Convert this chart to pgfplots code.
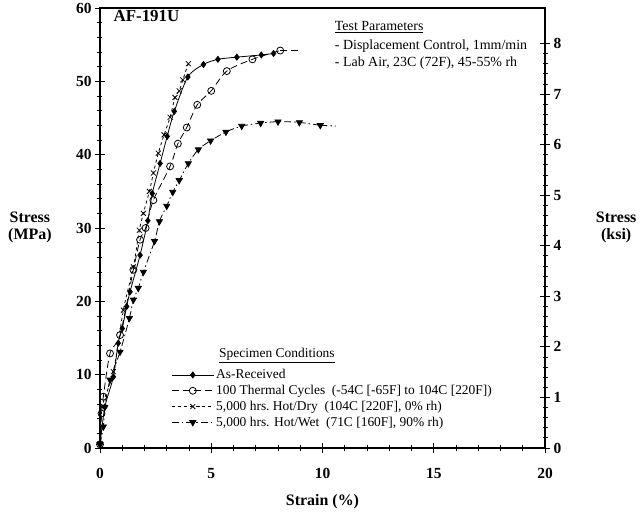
\documentclass[border=0pt]{standalone}
\usepackage{fontspec}
\setmainfont{Liberation Serif}
\usepackage{pgfplots}
\pgfplotsset{compat=1.18}

\begin{document}
\begin{tikzpicture}
\useasboundingbox (-100bp,-66bp) rectangle (544bp,448bp);
% left axis: MPa
\begin{axis}[
    at={(0,0)}, anchor=south west,
    scale only axis, width=445bp, height=440bp,
    xmin=0, xmax=20, ymin=0, ymax=60,
    xtick={0,5,...,20}, ytick={0,10,...,60},
    minor x tick num=4, minor y tick num=4,
    xtick pos=bottom, ytick pos=left,
    tick align=center, major tick length=10bp, minor tick length=5bp,
    axis line style={line width=1.1pt},
    every tick/.style={black, line width=0.8pt},
    ticklabel style={font=\fontsize{15.5}{15.5}\selectfont\bfseries},
    xticklabel style={yshift=-12bp},
    /pgf/number format/assume math mode=true,
    clip=false,
    legend cell align=left,
    legend style={draw=none, fill=none, at={(axis cs:3.2,11.0)}, anchor=north west,
        font=\fontsize{13.5}{13.5}\selectfont, inner sep=0pt, row sep=1bp},
    legend image code/.code={\draw[mark repeat=2,mark phase=2,#1] plot coordinates {(0bp,0bp) (21bp,0bp) (42bp,0bp)};},
]
\addplot[black, line width=0.8pt, smooth, mark=diamond*, mark size=3bp] coordinates {
    (0,0.5) (0.22,5.6) (0.6,9.7) (0.82,14.3) (1.0,16.3) (1.2,19.3) (1.35,21.3)
    (1.8,26.3) (2.15,31.0) (2.35,34.7) (2.7,38.8) (3.02,42.5) (3.34,45.9)
    (3.95,50.6) (4.65,52.3) (5.3,53.0) (6.15,53.3) (7.25,53.6) (7.8,53.8)
};
\addlegendentry{As-Received}
\addplot[black, line width=0.8pt, smooth, dash pattern=on 7bp off 4bp,
    mark=o, mark size=3.5bp, mark options={solid, fill=white}] coordinates {
    (0,0.5) (0.07,4.7) (0.15,7.0) (0.45,12.9) (0.9,15.4) (1.5,24.3) (1.8,28.4)
    (2.05,30.0) (2.4,33.8) (3.15,38.4) (3.5,41.5) (3.9,43.7) (4.37,46.8)
    (5.0,48.7) (5.7,51.4) (6.85,53.0) (8.1,54.2)
};
\addlegendentry{100 Thermal Cycles \ (-54C [-65F] to 104C [220F])}
\addplot[black, line width=0.8pt, smooth, dash pattern=on 3bp off 3bp,
    mark=x, mark size=3.5bp, mark options={solid}] coordinates {
    (0,0.5) (0.1,5.6) (0.6,10.4) (1.05,18.8) (1.5,24.7) (1.77,29.7) (1.95,32.0)
    (2.22,35.0) (2.4,37.5) (2.62,40.2) (2.88,42.7) (3.15,45.1) (3.37,47.8)
    (3.56,48.7) (3.72,50.2) (3.97,52.4)
};
\addlegendentry{5,000 hrs.\ Hot/Dry \ (104C [220F], 0\% rh)}
\addplot[black, line width=0.8pt, smooth, dash pattern=on 7bp off 3bp on 1.5bp off 3bp,
    mark=triangle*, mark size=3.5bp, mark options={solid, rotate=180}] coordinates {
    (0,0.5) (0.15,2.9) (0.22,5.6) (0.45,9.3) (0.9,13.1) (1.32,17.7) (1.5,20.2)
    (1.72,21.8) (1.95,24.0) (2.45,28.2) (2.67,30.9) (3.0,33.0) (3.27,34.9)
    (3.56,36.5) (3.97,38.8) (4.42,40.7) (4.97,41.9) (5.66,43.1) (6.37,43.9)
    (7.22,44.3) (8.0,44.5) (8.96,44.4) (9.9,44.0)
};
\addlegendentry{5,000 hrs. Hot/Wet \ (71C [160F], 90\% rh)}
% line tails past the last marks
\addplot[black, line width=0.8pt, dash pattern=on 7bp off 4bp, forget plot] coordinates {(8.1,54.2) (8.9,54.2)};
\addplot[black, line width=0.8pt, dash pattern=on 7bp off 3bp on 1.5bp off 3bp, forget plot] coordinates {(9.9,44.0) (10.6,43.9)};

\node[anchor=west, inner sep=0pt, font=\fontsize{17}{17}\selectfont\bfseries] at (axis cs:0.6,58.9) {AF-191U};
\node[anchor=west, inner sep=0pt, font=\fontsize{14}{14}\selectfont] at (axis cs:10.55,57.4) {\underline{Test Parameters}};
\node[anchor=west, inner sep=0pt, font=\fontsize{14}{14}\selectfont] at (axis cs:10.55,54.8) {- Displacement Control, 1mm/min};
\node[anchor=west, inner sep=0pt, font=\fontsize{14}{14}\selectfont] at (axis cs:10.55,52.5) {- Lab Air, 23C (72F), 45-55\% rh};
\node[anchor=west, inner sep=0pt, font=\fontsize{13.5}{13.5}\selectfont] at (axis cs:5.35,12.6) {\underline{Specimen Conditions}};
\node[align=center, font=\fontsize{16}{17}\selectfont\bfseries] at (axis cs:-3.15,30.1) {Stress\\(MPa)};
\node[align=center, font=\fontsize{16}{17}\selectfont\bfseries] at (axis cs:23.2,30.1) {Stress\\(ksi)};
\node[font=\fontsize{16}{16}\selectfont\bfseries] at (axis cs:10,-7.3) {Strain (\%)};
\end{axis}
% right axis: ksi
\begin{axis}[
    at={(0,0)}, anchor=south west,
    scale only axis, width=445bp, height=440bp,
    xmin=0, xmax=20, ymin=0, ymax=8.7023,
    axis x line=none, axis y line*=right,
    ytick={0,...,8}, minor y tick num=4,
    tick align=center, major tick length=10bp, minor tick length=5bp,
    axis line style={line width=1.1pt},
    every tick/.style={black, line width=0.8pt},
    ticklabel style={font=\fontsize{15.5}{15.5}\selectfont\bfseries},
    /pgf/number format/assume math mode=true,
]
\end{axis}
\end{tikzpicture}
\end{document}
